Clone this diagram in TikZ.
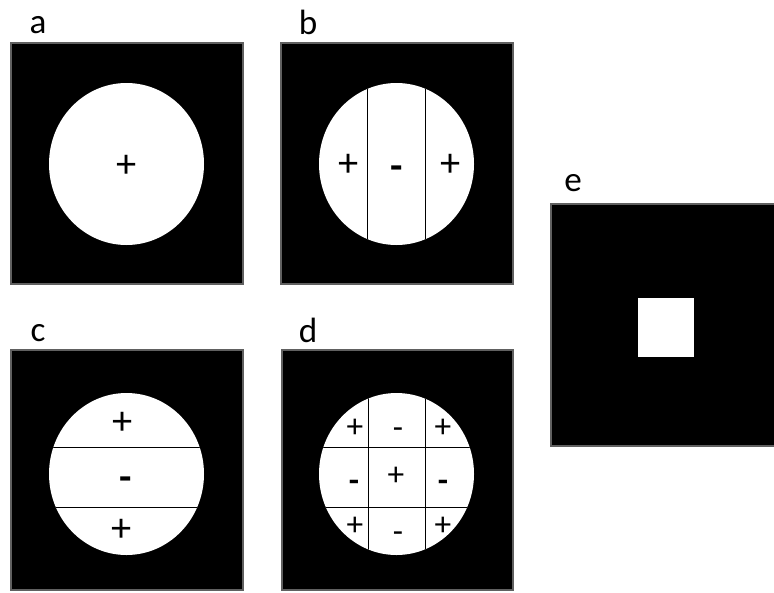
\documentclass[tikz,border=0pt]{standalone}
\usepackage{fontspec}
\setmainfont{Carlito}
\usepackage{tikz}

\tikzset{
  panel/.style={fill=black, draw=gray!75!black, line width=0.7pt},
  disc/.style={fill=white},
  cut/.style={draw=black, line width=0.5pt},
  sign/.style={font=\fontsize{23}{23}\selectfont, inner sep=0pt},
  small sign/.style={font=\fontsize{19}{19}\selectfont, inner sep=0pt},
  tag/.style={font=\fontsize{20}{20}\selectfont, inner sep=0pt}
}

\begin{document}
\begin{tikzpicture}[x=0.02cm, y=-0.02cm]
  % page frame in pixel units
  \path[use as bounding box] (0,0) rectangle (774,592);

  % a: plain disc
  \node[tag] (tagA) at (38,25) {a};
  \draw[panel] (11,43) rectangle (243,284);
  \fill[disc] (126.5,164) ellipse [x radius=77.5, y radius=81];
  \node[sign] (aP) at (127,166) {+};

  % b: vertical bands
  \node[tag] (tagB) at (308,22) {b};
  \draw[panel] (281,43) rectangle (513,284);
  \begin{scope}
    \clip (396.5,164) ellipse [x radius=77.5, y radius=81];
    \fill[disc] (300,70) rectangle (500,260);
    \draw[cut] (367,70) -- (367,260);
    \draw[cut] (425,70) -- (425,260);
  \end{scope}
  \node[sign] (bP1) at (349,165) {+};
  \node[sign] (bM) at (397,173) {\bfseries -};
  \node[sign] (bP2) at (451,165) {+};

  % c: horizontal bands
  \node[tag] (tagC) at (38,333) {c};
  \draw[panel] (11,350) rectangle (243,590);
  \begin{scope}
    \clip (126.5,474) ellipse [x radius=77.5, y radius=81];
    \fill[disc] (30,380) rectangle (230,570);
    \draw[cut] (30,447) -- (230,447);
    \draw[cut] (30,507) -- (230,507);
  \end{scope}
  \node[sign] (cP1) at (123,423) {+};
  \node[sign] (cM) at (126,484) {\bfseries -};
  \node[sign] (cP2) at (122,530) {+};

  % d: checkerboard
  \node[tag] (tagD) at (308,330) {d};
  \draw[panel] (282,350) rectangle (513,590);
  \begin{scope}
    \clip (396.5,474) ellipse [x radius=77.5, y radius=81];
    \fill[disc] (300,380) rectangle (500,570);
    \draw[cut] (368,380) -- (368,570);
    \draw[cut] (425,380) -- (425,570);
    \draw[cut] (300,447) -- (500,447);
    \draw[cut] (300,507) -- (500,507);
  \end{scope}
  \node[small sign] (dA) at (355,428) {+};
  \node[small sign] (dB) at (398,433) {-};
  \node[small sign] (dC) at (443,428) {+};
  \node[small sign] (dD) at (354,486) {\bfseries -};
  \node[small sign] (dE) at (396,476) {+};
  \node[small sign] (dF) at (443,486) {\bfseries -};
  \node[small sign] (dG) at (355,526) {+};
  \node[small sign] (dH) at (398,537) {-};
  \node[small sign] (dI) at (443,526) {+};

  % e: small square
  \node[tag] (tagE) at (573,183) {e};
  \draw[panel] (551,204) rectangle (776,446);
  \fill[disc] (638,298) rectangle (694,357);
\end{tikzpicture}
\end{document}
